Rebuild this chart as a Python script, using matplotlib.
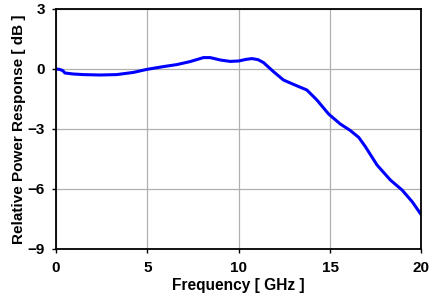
import matplotlib

matplotlib.use("Agg")
import matplotlib.pyplot as plt

freq_ghz = [0.0, 0.2, 0.37, 0.49, 0.95, 1.5, 2.41, 3.32, 4.24, 4.97, 5.88,
            6.61, 7.34, 8.07, 8.44, 8.99, 9.53, 9.99, 10.4, 10.72, 11.05,
            11.36, 11.9, 12.45, 13.0, 13.73, 14.28, 14.92, 15.56, 16.1,
            16.57, 16.93, 17.57, 18.3, 18.94, 19.49, 20.0]
response_db = [0.0, -0.02, -0.08, -0.2, -0.25, -0.28, -0.3, -0.28, -0.17, -0.02,
               0.12, 0.22, 0.37, 0.57, 0.57, 0.45, 0.38, 0.4, 0.48, 0.52, 0.47,
               0.32, -0.13, -0.55, -0.77, -1.05, -1.55, -2.25, -2.75, -3.07,
               -3.42, -3.88, -4.8, -5.55, -6.05, -6.63, -7.3]

x_ticks = [0, 5, 10, 15, 20]
y_ticks = [3, 0, -3, -6, -9]

plt.rcParams["font.family"] = ["Liberation Sans", "DejaVu Sans"]
plt.rcParams["font.weight"] = "bold"

fig, ax = plt.subplots(figsize=(4.34, 3.0), dpi=100)
fig.subplots_adjust(left=0.129, right=0.971, top=0.97, bottom=0.17)

ax.plot(freq_ghz, response_db, color="#0000ff", linewidth=2.2)

ax.set_xlim(0, 20)
ax.set_ylim(-9, 3)
ax.set_xticks(x_ticks)
ax.set_yticks(y_ticks)
ax.grid(color="#b0b0b0", linewidth=0.9)
ax.tick_params(direction="out", length=3, width=1, labelsize=11)
ax.tick_params(axis="x", pad=6)
ax.tick_params(axis="y", pad=5)
for s in ax.spines.values():
    s.set_linewidth(1.3)
    s.set_color("black")

ax.set_xlabel("Frequency [ GHz ]", fontsize=11.2, fontweight="bold", labelpad=2)
ax.set_ylabel("Relative Power Response [ dB ]", fontsize=11, fontweight="bold", labelpad=1)

fig.savefig("out.png", dpi=100)
plt.close(fig)
